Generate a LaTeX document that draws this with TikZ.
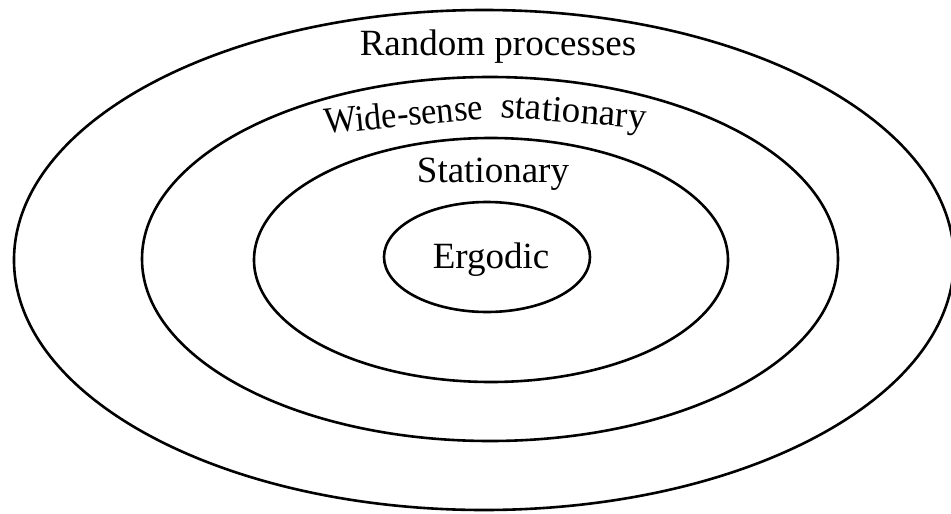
\documentclass[tikz,border=0pt]{standalone}
\usepackage{fontspec}
\setmainfont{Liberation Serif}
\begin{document}
\begin{tikzpicture}[x=1pt,y=-1pt,
  ring/.style={draw=black,line width=2.6pt},
  lbl/.style={inner sep=0pt,anchor=base,font=\fontsize{37}{40}\selectfont}]
\useasboundingbox (0,0) rectangle (951,514);
\path[fill=white] (0,0) rectangle (951,514);
\draw[ring] (484,260) ellipse [x radius=470, y radius=250];
\draw[ring] (490,259) ellipse [x radius=348, y radius=182];
\draw[ring] (491,260) ellipse [x radius=237, y radius=122];
\draw[ring] (487,257) ellipse [x radius=103, y radius=55];
\node[lbl] (random) at (498,55) {Random processes};
\node[lbl,anchor=base west,rotate=5.5] (wideA) at (325,134) {\scalebox{0.93}[1]{Wide-sense}};
\node[lbl,anchor=base west,rotate=-4.5] (wideB) at (500,117) {stationary};
\node[lbl] (stat) at (493,182) {Stationary};
\node[lbl] (ergo) at (491,268) {Ergodic};
\end{tikzpicture}
\end{document}
